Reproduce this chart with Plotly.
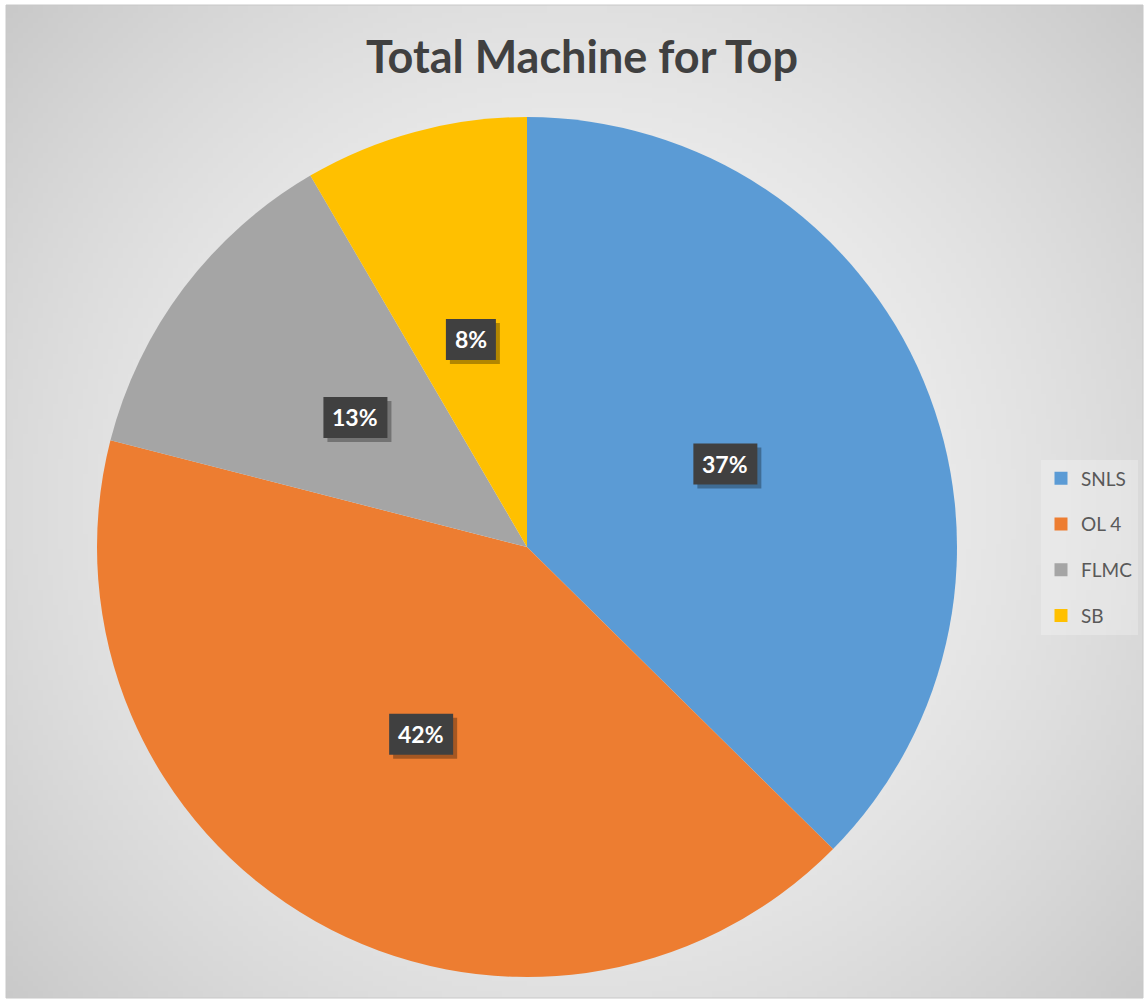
import base64, struct, zlib, math
import plotly.graph_objects as go

# ---- data ----
categories = ["SNLS", "OL 4", "FLMC", "SB"]
values = [89, 99, 30, 20]
colors = ["#5B9BD5", "#ED7D31", "#A5A5A5", "#FFC000"]
title_text = "Total Machine for Top"

W, H = 1145, 1000

# ---- radial gradient background image (PNG, stdlib only) ----
def make_png(w, h, fn):
    raw = b""
    for y in range(h):
        row = b"\x00"
        for x in range(w):
            v = fn(x, y)
            row += bytes((v, v, v))
        raw += row
    def chunk(t, d):
        c = struct.pack(">I", len(d)) + t + d
        return c + struct.pack(">I", zlib.crc32(t + d) & 0xffffffff)
    png = b"\x89PNG\r\n\x1a\n"
    png += chunk(b"IHDR", struct.pack(">IIBBBBB", w, h, 8, 2, 0, 0, 0))
    png += chunk(b"IDAT", zlib.compress(raw, 9))
    png += chunk(b"IEND", b"")
    return "data:image/png;base64," + base64.b64encode(png).decode()

gw, gh = 228, 198
gcx, gcy = 0.5 * gw, 0.5 * gh
dmax = math.hypot(gcx, gcy)
def grad(x, y):
    d = math.hypot(x - gcx, y - gcy) / dmax
    return int(round(247 - 46 * min(d, 1) ** 1.6))
bg_src = make_png(gw, gh, grad)

# ---- pie geometry ----
pcx, pcy, pr = 527, 547, 430
dom_x = [(pcx - pr) / W, (pcx + pr) / W]
dom_y = [1 - (pcy + pr) / H, 1 - (pcy - pr) / H]

fig = go.Figure()
fig.add_trace(go.Pie(
    labels=categories, values=values, sort=False, direction="clockwise",
    rotation=0, marker=dict(colors=colors, line=dict(width=0)),
    textinfo="none", hoverinfo="label+percent", showlegend=False,
    domain=dict(x=dom_x, y=dom_y),
))

# legend entries (one per category)
for c, col in zip(categories, colors):
    fig.add_trace(go.Scatter(
        x=[None], y=[None], mode="markers", name=c, legendgroup=c,
        marker=dict(symbol="square", size=13, color=col),
    ))

# data labels derived from values
total = sum(values)
cum = 0
annotations = []
shapes = [dict(type="rect", xref="paper", yref="paper", x0=6 / W, x1=1143 / W,
               y0=1 - 998 / H, y1=1 - 5 / H, line=dict(color="#c8c8c8", width=1),
               fillcolor="rgba(0,0,0,0)", layer="below")]
for v in values:
    mid = (cum + v / 2) / total * 2 * math.pi
    cum += v
    lx = pcx + 0.5 * pr * math.sin(mid)
    ly = pcy - 0.5 * pr * math.cos(mid)
    txt = f"{round(v / total * 100)}%"
    bw = 22 + 14 * len(txt)
    bh = 41
    # drop shadow box
    shapes.append(dict(type="rect", xref="paper", yref="paper",
                       x0=(lx - bw / 2 + 4) / W, x1=(lx + bw / 2 + 4) / W,
                       y0=1 - (ly + bh / 2 + 4) / H, y1=1 - (ly - bh / 2 + 4) / H,
                       fillcolor="rgba(0,0,0,0.3)", line=dict(width=0), layer="above"))
    shapes.append(dict(type="rect", xref="paper", yref="paper",
                       x0=(lx - bw / 2) / W, x1=(lx + bw / 2) / W,
                       y0=1 - (ly + bh / 2) / H, y1=1 - (ly - bh / 2) / H,
                       fillcolor="#404040", line=dict(width=0), layer="above"))
    annotations.append(dict(
        x=lx / W, y=1 - ly / H, xref="paper", yref="paper",
        text=f"<b>{txt}</b>", showarrow=False,
        font=dict(family="Lato, Open Sans, sans-serif", size=23, color="white"),
        xanchor="center", yanchor="middle",
    ))

fig.update_layout(
    width=W, height=H,
    margin=dict(l=0, r=0, t=0, b=0),
    paper_bgcolor="white", plot_bgcolor="rgba(0,0,0,0)",
    title=dict(text=f"<b>{title_text}</b>", x=582 / W, xanchor="center",
               y=1 - 57 / H, yanchor="middle",
               font=dict(family="Lato, Open Sans, sans-serif", size=45, color="#404040")),
    xaxis=dict(visible=False), yaxis=dict(visible=False),
    legend=dict(x=1041 / W, xanchor="left", y=1 - 547 / H, yanchor="middle",
                bgcolor="rgba(255,255,255,0.25)", tracegroupgap=18,
                traceorder="grouped",
                font=dict(family="Lato, Open Sans, sans-serif", size=19, color="#595959")),
    images=[dict(source=bg_src, xref="paper", yref="paper", x=6 / W, y=1 - 5 / H,
                 sizex=(1143 - 6) / W, sizey=(998 - 5) / H, xanchor="left",
                 yanchor="top", sizing="stretch", layer="below")],
    shapes=shapes,
    annotations=annotations,
)

fig.write_html("out.html")
